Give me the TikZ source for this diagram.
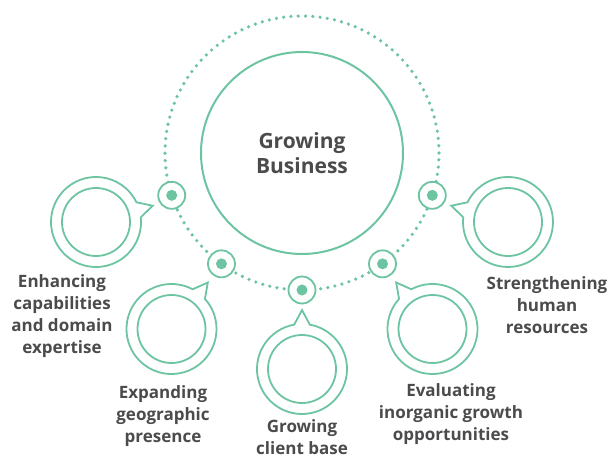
\documentclass[tikz,border=0pt]{standalone}
\usepackage{fontspec}
\setmainfont{Open Sans}
\definecolor{grn}{HTML}{6DC4A1}
\definecolor{txt}{HTML}{4B4B4D}
\begin{document}
\begin{tikzpicture}[x=1pt,y=1pt,
  ringdot/.style={circle,draw=grn,fill=white,line width=1.8pt,minimum size=27pt,inner sep=0pt},
  innerc/.style={circle,draw=grn,line width=1.8pt,minimum size=68pt,inner sep=0pt},
  outline/.style={draw=grn,line width=1.8pt,line join=miter},
  lbl/.style={font=\bfseries\fontsize{17}{22}\selectfont,text=txt,align=center,anchor=base,inner sep=0pt},
  dotring/.style={draw=grn,line width=3.6pt,line cap=round,dash pattern=on 0pt off 7.3pt}]
\useasboundingbox (0,0) rectangle (616,459);
\coordinate (c) at (302,306);
\draw[dotring] (c) circle[radius=137];
\node[circle,draw=grn,line width=2pt,minimum size=202pt,inner sep=0pt,
  font=\bfseries\fontsize{21}{25}\selectfont,text=txt,align=center] (core) at (c) {Growing\\Business};
% dots on the ring
\foreach \n/\a in {1/198,2/234,3/270,4/306,5/342}{
  \node[ringdot] (d\n) at ([shift={(\a:137)}]c) {};
  \fill[grn] (d\n.center) circle[radius=5.5];
}
% bubbles
\foreach \n/\x/\y/\a in {1/96/237/16,2/171.5/130/52,3/302/90/90,4/432.5/130/128,5/508/237/164}{
  \node[innerc] (b\n) at (\x,\y) {};
  \draw[outline] ([shift={(\a+10:45)}]b\n.center) arc[start angle=\a+10,end angle=\a+350,radius=45]
     -- ([shift={(\a:59)}]b\n.center) -- cycle;
}
% labels (base anchor = baseline of the last line)
\node[lbl] (l1) at (62,106) {Enhancing\\capabilities\\and domain\\expertise};
\node[lbl] (l2) at (163,17) {Expanding\\geographic\\presence};
\node[lbl] (l3) at (302,4.5) {Growing\\client base};
\node[lbl] (l4) at (451,19) {Evaluating\\inorganic growth\\opportunities};
\node[lbl] (l5) at (547,126) {Strengthening\\human\\resources};
\end{tikzpicture}
\end{document}
